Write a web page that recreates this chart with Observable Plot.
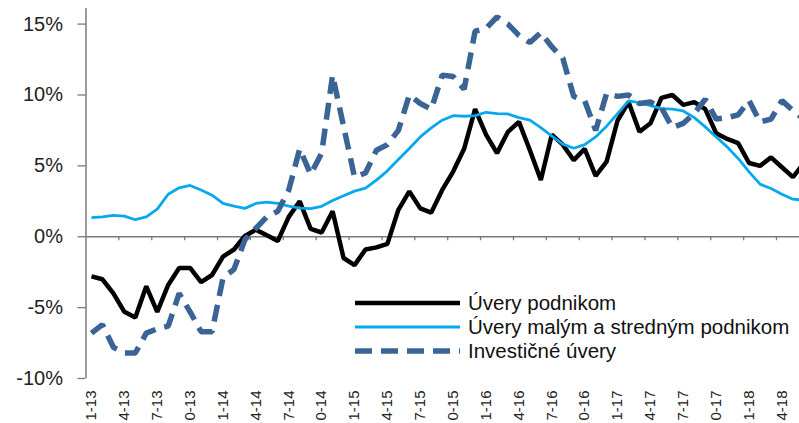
<!DOCTYPE html>
<html><head><meta charset="utf-8">
<script src="https://cdn.jsdelivr.net/npm/d3@7"></script>
<script src="https://cdn.jsdelivr.net/npm/@observablehq/plot@0.6"></script>
<style>
body{margin:0;background:#fff;font-family:"Liberation Sans",Arial,sans-serif;}
#wrap{position:relative;width:799px;height:423px;overflow:hidden;background:#fff}
#legend{position:absolute;left:355px;top:291px;font-size:20.5px;color:#111;line-height:24px}
.item{display:flex;align-items:center;height:24px;white-space:nowrap}
.item svg{margin-right:8px;flex:none}
</style></head><body>
<div id="wrap"><div id="chart"></div><div id="legend"></div></div>
<script>
// Tick labels every 3 months starting Jan 2013 (as shown in the source)
const tickLabels = ["1-13","4-13","7-13","0-13","1-14","4-14","7-14","0-14","1-15","4-15","7-15","0-15","1-16","4-16","7-16","0-16","1-17","4-17","7-17","0-17","1-18","4-18"];
const yTicks = [-10,-5,0,5,10,15];
const seriesNames = ["Úvery podnikom","Úvery malým a stredným podnikom","Investičné úvery"];
// monthly y/y growth, %, Jan 2013 - Jun 2018
const uveryPodnikom = [-2.8,-3.0,-4.0,-5.3,-5.7,-3.5,-5.3,-3.4,-2.2,-2.2,-3.2,-2.7,
  -1.4,-0.9,0.05,0.5,0.1,-0.3,1.4,2.5,0.55,0.3,1.8,-1.5,
  -2.0,-0.9,-0.75,-0.5,1.9,3.2,2.0,1.7,3.3,4.6,6.2,9.0,
  7.2,5.9,7.4,8.1,6.1,4.0,7.2,6.5,5.4,6.2,4.3,5.3,
  8.2,9.5,7.4,8.0,9.8,10.0,9.3,9.5,9.0,7.3,6.9,6.6,
  5.2,5.0,5.6,4.9,4.2,5.2];
const uveryMSP = [1.35,1.4,1.5,1.45,1.2,1.4,1.95,3.0,3.45,3.62,3.3,2.93,
  2.35,2.16,2.0,2.35,2.44,2.35,2.16,2.02,1.98,2.15,2.56,2.89,
  3.22,3.43,3.99,4.65,5.45,6.22,7.04,7.68,8.22,8.54,8.5,8.54,
  8.78,8.69,8.66,8.4,8.22,7.7,7.1,6.53,6.24,6.5,7.04,7.8,
  8.69,9.58,9.46,9.25,9.04,9.0,8.87,8.4,7.75,7.04,6.34,5.52,
  4.58,3.71,3.4,3.0,2.65,2.58];
const investicne = [-6.8,-6.2,-7.8,-8.2,-8.2,-6.8,-6.5,-6.3,-4.0,-5.3,-6.7,-6.7,
  -2.9,-2.3,-0.2,0.6,1.4,1.8,3.3,6.2,4.4,5.9,11.4,7.8,
  4.2,4.5,6.1,6.5,7.5,10.0,9.4,9.0,11.4,11.3,10.4,14.5,
  14.7,15.5,15.0,14.2,13.7,14.4,13.4,12.6,9.9,9.6,7.5,10.1,
  9.9,10.0,9.4,9.5,9.1,7.7,8.0,8.7,9.7,8.3,8.4,8.6,
  9.6,8.1,8.3,9.6,8.9,8.3];

const colors = ["#000000","#08a8ee","#3a6496"];
const widths = [4.5,2.8,5.5];
const dashes = [null,null,"17,9"];
const allSeries = [uveryPodnikom, uveryMSP, investicne];

const data = allSeries.flatMap((arr, s) => arr.map((v, m) => ({m, v, s: seriesNames[s]})));
const labelPos = tickLabels.map((_, i) => i * 3);
const tickPos = d3.range(-0.5, uveryPodnikom.length, 3).slice(1);

const lineMarks = seriesNames.map((name, s) =>
  Plot.line(data.filter(d => d.s === name), {
    x: "m", y: "v", stroke: colors[s], strokeWidth: widths[s],
    strokeDasharray: dashes[s] || undefined, strokeLinejoin: "miter", strokeLinecap: "butt"
  })
);

const chart = Plot.plot({
  width: 799, height: 423,
  marginLeft: 85.5, marginRight: 0, marginTop: 8, marginBottom: 45,
  x: {domain: [-0.5, 64.6], label: null},
  y: {domain: [-10, 16.1], label: null},
  style: {fontFamily: '"Liberation Sans", Arial, sans-serif', background: "#fff", color: "#222"},
  marks: [
    Plot.ruleY([0], {stroke: "#7a7a7a", strokeWidth: 1.3}),
    Plot.ruleX(tickPos, {x: d => d, y1: 0, y2: 0, insetBottom: -4, stroke: "#7a7a7a", strokeWidth: 1.3}),
    Plot.ruleX([-0.5], {stroke: "#7a7a7a", strokeWidth: 1.5}),
    Plot.axisY({ticks: yTicks, tickFormat: d => `${d}%`, tickSize: 8, tickPadding: 15, label: null,
      fontSize: 20, stroke: "#7a7a7a", fill: "#222", strokeWidth: 1.3}),
    Plot.axisX({ticks: labelPos, tickFormat: d => tickLabels[d / 3], tickSize: 0, tickPadding: 12,
      tickRotate: -90, fontSize: 15, fill: "#222", label: null}),
    ...lineMarks
  ]
});
document.getElementById("chart").appendChild(chart);

const legend = d3.select("#legend");
seriesNames.forEach((name, s) => {
  const item = legend.append("div").attr("class", "item");
  const svg = item.append("svg").attr("width", 105).attr("height", 12);
  svg.append("line").attr("x1", 0).attr("x2", 105).attr("y1", 6).attr("y2", 6)
    .attr("stroke", colors[s]).attr("stroke-width", widths[s])
    .attr("stroke-dasharray", dashes[s]);
  item.append("span").text(name);
});
</script>
</body></html>
